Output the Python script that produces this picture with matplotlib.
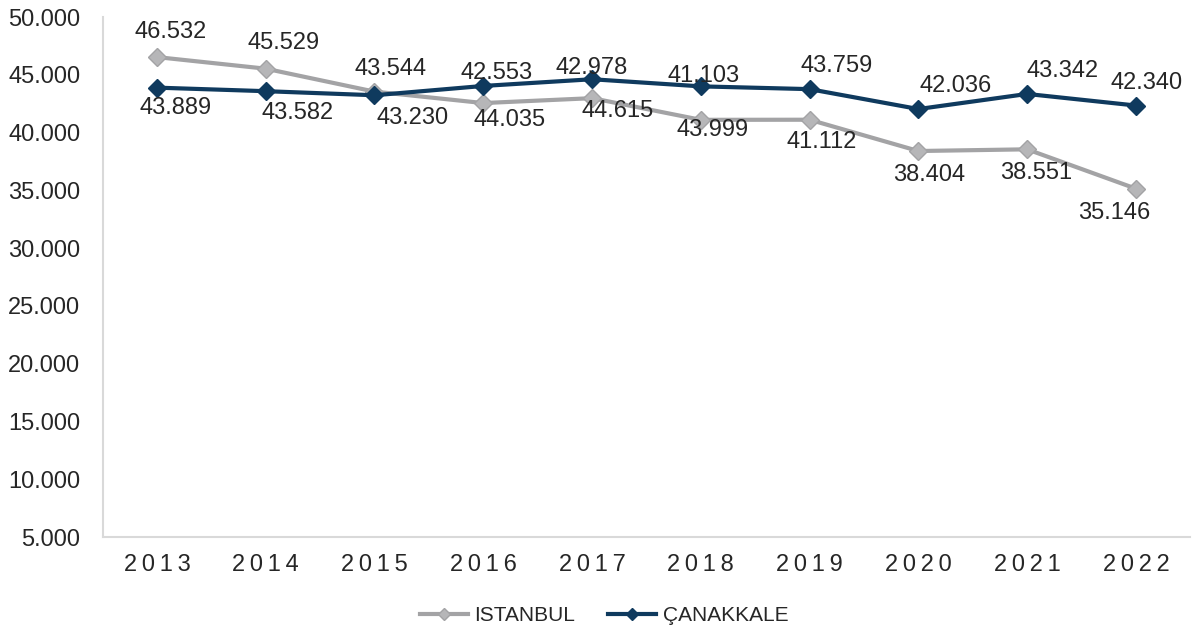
import matplotlib.pyplot as plt
from matplotlib.ticker import FuncFormatter

plt.rcParams['font.family'] = ['Liberation Sans', 'DejaVu Sans']

years = ['2013', '2014', '2015', '2016', '2017', '2018', '2019', '2020', '2021', '2022']
istanbul = [46532, 45529, 43544, 42553, 42978, 41103, 41112, 38404, 38551, 35146]
canakkale = [43889, 43582, 43230, 44035, 44615, 43999, 43759, 42036, 43342, 42340]

# label offsets in pixels (dx, dy) from each point, as the labels sit in the original
ist_off = [(14, 25), (18, 26), (16, 23), (13, 30), (0, 30), (3, 44),
           (12, -22), (11, -24), (9, -24), (-22, -24)]
can_off = [(19, -20), (32, -22), (38, -23), (26, -34), (26, -32), (12, -44),
           (27, 23), (37, 23), (35, 23), (11, 23)]

grey = '#A3A3A5'
navy = '#0F3A5E'


def fmt(v):
    return f"{int(v):,}".replace(',', '.')


def main():
    fig = plt.figure(figsize=(11.94, 6.35), dpi=100)
    ax = fig.add_axes([0.0859, 0.1543, 0.911, 0.8189])

    x = list(range(len(years)))
    ax.plot(x, istanbul, color=grey, lw=3, marker='D', ms=9,
            mfc='#B6B6B8', mec=grey, label='ISTANBUL', zorder=2)
    ax.plot(x, canakkale, color=navy, lw=3, marker='D', ms=9,
            mfc=navy, mec=navy, label='ÇANAKKALE', zorder=3)

    for xi, v, off in zip(x, istanbul, ist_off):
        ax.annotate(fmt(v), (xi, v), xytext=off, textcoords='offset pixels',
                    ha='center', va='center', fontsize=17, color='#262626', zorder=4)
    for xi, v, off in zip(x, canakkale, can_off):
        ax.annotate(fmt(v), (xi, v), xytext=off, textcoords='offset pixels',
                    ha='center', va='center', fontsize=17, color='#262626', zorder=4)

    ax.set_xlim(-0.5, len(years) - 0.5)
    ax.set_ylim(5000, 50000)
    ax.set_yticks(range(5000, 50001, 5000))
    ax.yaxis.set_major_formatter(FuncFormatter(lambda v, p: fmt(v)))
    ax.set_xticks(x)
    ax.set_xticklabels(['\u2009'.join(y) for y in years])

    ax.tick_params(axis='both', length=0, labelsize=17, colors='#262626')
    ax.tick_params(axis='y', pad=16)
    ax.tick_params(axis='x', pad=12)
    for sp in ['top', 'right']:
        ax.spines[sp].set_visible(False)
    for sp in ['left', 'bottom']:
        ax.spines[sp].set_color('#D9D9D9')
        ax.spines[sp].set_linewidth(1.5)

    fig.legend(loc='center', bbox_to_anchor=(0.506, 0.030), ncol=2, frameon=False,
               fontsize=15, handlelength=2.3, columnspacing=1.6, handletextpad=0.3,
               markerscale=0.7, labelcolor='#262626')

    plt.savefig("out.png")


if __name__ == "__main__":
    main()
